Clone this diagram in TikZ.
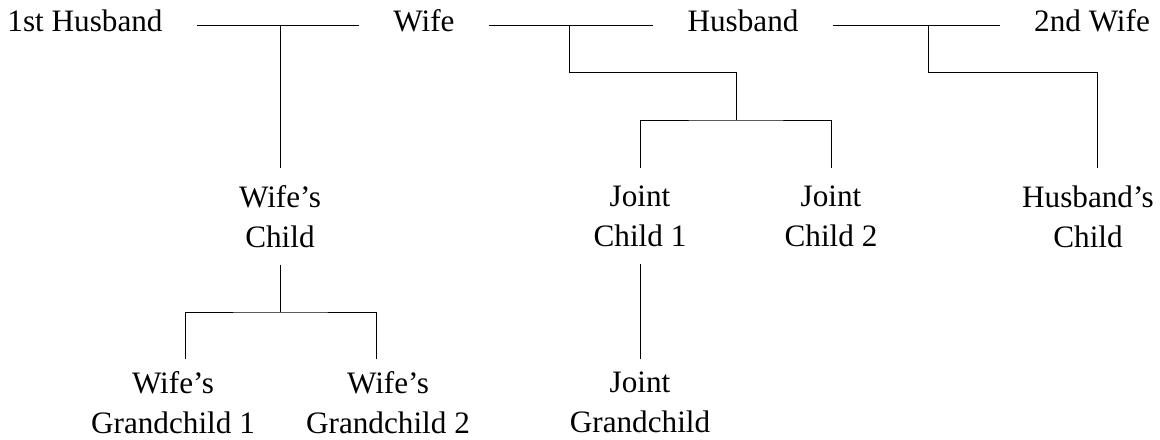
\documentclass[tikz,border=0pt]{standalone}
\usepackage{fontspec}
\setmainfont{Liberation Serif}
\tikzset{
    %Define style for the parents on top
    spouse/.style={
           rectangle,
           inner xsep=17pt,
           inner ysep=0pt,
           text height=0.7em,
           text depth=0pt,
           font=\fontsize{15.6pt}{20pt}\selectfont},
    %Define style for children
    kid/.style={
           rectangle,
           anchor=north,
           inner xsep=0pt,
           inner ysep=8.5pt,
           align=center,
           font=\fontsize{15.6pt}{20pt}\selectfont},
    % Define line style
    tie/.style={
           draw=black,
           line width=0.5pt}
}
\begin{document}
\begin{tikzpicture}[x=0.5pt,y=-0.5pt]
\useasboundingbox (0,0) rectangle (1160,439);
% parents
\node[spouse](h1) at (85,25){1st Husband};
\node[spouse](w) at (424,25){Wife};
\node[spouse](h) at (743,25){Husband};
\node[spouse](w2) at (1092,25){2nd Wife};
% children
\node[kid](wc) at (280,168){Wife's\\Child};
\node[kid](jc1) at (640,168){Joint\\Child 1};
\node[kid](jc2) at (831,168){Joint\\Child 2};
\node[kid](hc) at (1088,168){Husband's\\Child};
% grandchildren
\node[kid, inner ysep=6pt](wg1) at (173,359){Wife's\\Grandchild 1};
\node[kid, inner ysep=6pt](wg2) at (388,359){Wife's\\Grandchild 2};
\node[kid, inner ysep=6pt](jg) at (640,359){Joint\\Grandchild};
% junctions
\coordinate (m1) at (280,25);
\coordinate (m2) at (569,25);
\coordinate (m3) at (928,25);
\coordinate (bj) at (736,120);
\coordinate (bg) at (280,312);
\coordinate (th) at (1097,168);
\coordinate (t1) at (185,359);
\coordinate (t2) at (376,359);
\coordinate (tj) at (640,359);
\path[tie]
    (h1) -- (w)
    (w) -- (h)
    (h) -- (w2)
    (m1) -- (wc.north)
    (m2) -- ++(0,47) -| (bj)
    (jc1.north) |- (bj) -| (jc2.north)
    (m3) -- ++(0,47) -| (th)
    (wc.south) -- (bg)
    (t1) |- (bg) -| (t2)
    (jc1.south) -- (tj);
\end{tikzpicture}
\end{document}
